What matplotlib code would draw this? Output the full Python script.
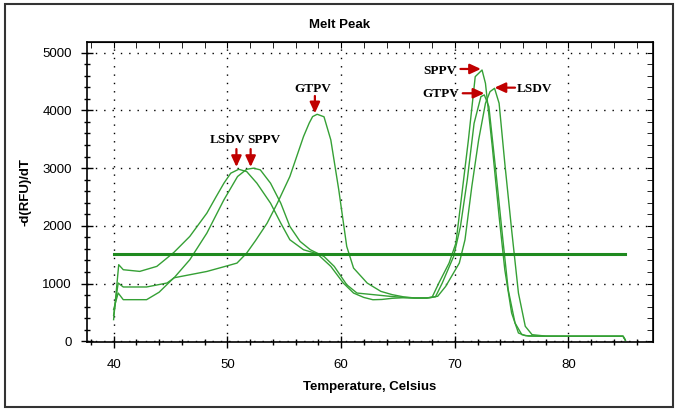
import matplotlib
matplotlib.use("Agg")
import matplotlib.pyplot as plt
from matplotlib.ticker import MultipleLocator
from matplotlib.patches import Rectangle

# curves (temperature, -d(RFU)/dT)
lsdv_t = [40.0, 40.45, 40.85, 42.3, 43.8, 45.3, 46.7, 48.2, 49.0, 49.7, 50.3, 51.0, 51.7,
          52.6, 53.8, 54.7, 55.5, 56.7, 57.9, 59.1, 60.2, 61.1, 62.0, 62.8, 63.6,
          64.5, 65.5, 66.5, 67.5, 68.5, 69.2, 70.4, 70.9, 71.5, 72.1, 72.7, 73.1,
          73.5, 73.9, 74.4, 75.0, 75.6, 76.2, 76.8, 78.0, 80.0, 82.0, 84.0, 84.8, 85.0]
lsdv_v = [375, 1327, 1240, 1211, 1298, 1540, 1817, 2220, 2500, 2739, 2912, 2980, 2941,
          2739, 2393, 2047, 1759, 1586, 1517, 1298, 1009, 836, 760, 720, 725,
          745, 755, 750, 750, 780, 951, 1355, 1759, 2682, 3489, 4123, 4325,
          4383, 4123, 3085, 1932, 836, 260, 115, 90, 88, 88, 88, 88, 20]

sppv_t = [40.0, 40.4, 40.85, 42.9, 44.7, 45.3, 46.7, 48.2, 49.7, 50.9, 51.7, 52.3,
          52.9, 53.8, 54.7, 55.5, 56.4, 57.3, 58.5, 59.4, 60.5, 61.4, 62.9, 64.3,
          65.5, 66.5, 67.5, 68.0, 68.6, 69.5, 70.1, 70.6, 71.2, 71.8, 72.1, 72.4,
          72.7, 73.3, 73.9, 74.4, 75.0, 75.6, 76.2, 78.0, 80.0, 82.0, 84.0, 84.8, 85.0]
sppv_v = [450, 1010, 941, 941, 1010, 1096, 1413, 1874, 2451, 2855, 2980, 2999,
          2970, 2739, 2393, 1990, 1730, 1586, 1470, 1298, 980, 836, 807, 779,
          760, 750, 750, 760, 1009, 1355, 1701, 2509, 3489, 4585, 4642, 4700,
          4469, 3374, 2163, 1240, 490, 144, 98, 88, 88, 88, 88, 88, 20]

gtpv_t = [40.0, 40.4, 40.85, 42.9, 44.0, 45.3, 46.7, 48.2, 49.6, 50.85, 51.7, 52.5,
          53.5, 54.4, 55.5, 56.7, 57.2, 57.5, 57.9, 58.5, 59.1, 59.8, 60.5, 61.1, 62.3,
          63.5, 64.5, 65.5, 66.5, 67.5, 68.3, 68.9, 69.9, 70.5, 71.1, 71.7, 72.3,
          72.6, 73.0, 73.6, 74.2, 74.7, 75.3, 75.9, 76.5, 78.0, 80.0, 82.0, 84.0, 84.8, 85.0]
gtpv_v = [550, 837, 721, 721, 850, 1100, 1153, 1210, 1286, 1355, 1528, 1750,
          2047, 2393, 2855, 3547, 3780, 3893, 3933, 3890, 3489, 2624, 1644, 1269, 1009,
          865, 808, 770, 750, 750, 770, 1009, 1470, 1990, 2797, 3777, 4239,
          4268, 4066, 2970, 1817, 894, 317, 115, 90, 88, 88, 88, 88, 88, 20]

threshold = 1520
threshold_span = [40, 85]

# peak labels: text, label position, arrow tail, arrow head
peak_notes = [
    ("LSDV", (50.0, 3490), (50.8, 3330), (50.8, 3020)),
    ("SPPV", (53.2, 3490), (52.05, 3330), (52.05, 3020)),
    ("GTPV", (57.55, 4370), (57.7, 4250), (57.7, 3950)),
    ("SPPV", (68.7, 4680), (70.5, 4718), (72.3, 4718)),
    ("GTPV", (68.8, 4280), (70.7, 4297), (72.6, 4297)),
    ("LSDV", (77.0, 4370), (75.3, 4394), (73.5, 4394)),
]

green = "#35a035"
sans = ["Liberation Sans", "DejaVu Sans"]

fig = plt.figure(figsize=(6.77, 4.11), dpi=100)
ax = fig.add_axes([0.128, 0.1679, 0.8365, 0.7306])

for t, v in [(lsdv_t, lsdv_v), (sppv_t, sppv_v), (gtpv_t, gtpv_v)]:
    ax.plot(t, v, color=green, lw=1.0)
ax.plot(threshold_span, [threshold, threshold], color="#1f8a1f", lw=2.2)

for txt, pos, tail, head in peak_notes:
    ax.text(pos[0], pos[1], txt, ha="center", va="center", fontsize=9.5,
            fontweight="bold", family=["Liberation Serif", "DejaVu Serif"])
    ax.annotate("", xy=head, xytext=tail,
                arrowprops=dict(arrowstyle="-|>,head_length=0.65,head_width=0.3",
                                color="#c00000", lw=1.6, shrinkA=0, shrinkB=0))

ax.set_xlim(37.63, 87.43)
ax.set_ylim(-12, 5190)
ax.xaxis.set_major_locator(MultipleLocator(10))
ax.xaxis.set_minor_locator(MultipleLocator(2))
ax.yaxis.set_major_locator(MultipleLocator(1000))
ax.yaxis.set_minor_locator(MultipleLocator(200))
ax.tick_params(which="major", direction="inout", length=8, width=1, labelsize=9.5)
ax.tick_params(which="minor", direction="inout", length=5, width=1)
ax.tick_params(axis="x", which="major", pad=8.5)
ax.tick_params(axis="y", which="major", pad=6.5)
for lab in ax.get_xticklabels() + ax.get_yticklabels():
    lab.set_family(sans)

top = ax.secondary_xaxis("top")
top.xaxis.set_major_locator(MultipleLocator(10))
top.xaxis.set_minor_locator(MultipleLocator(2))
top.tick_params(which="both", direction="in", labeltop=False, length=4)
right = ax.secondary_yaxis("right")
right.yaxis.set_major_locator(MultipleLocator(1000))
right.yaxis.set_minor_locator(MultipleLocator(200))
right.tick_params(which="both", direction="in", labelright=False, length=4)

ax.grid(which="major", color="black", linestyle=(0, (1, 5)), linewidth=1)
for s in ax.spines.values():
    s.set_linewidth(1.2)

ax.set_xlabel("Temperature, Celsius", fontsize=9.5, fontweight="bold", family=sans, labelpad=7)
ax.set_ylabel("-d(RFU)/dT", fontsize=9.5, fontweight="bold", family=sans, labelpad=8)
fig.text(0.502, 1 - 25 / 411, "Melt Peak", ha="center", va="center", fontsize=9.5,
         fontweight="bold", family=sans)

fig.patches.append(Rectangle((5 / 677, 4 / 411), 668 / 677, 403 / 411, transform=fig.transFigure,
                             fill=False, edgecolor="#333333", lw=1.5))

fig.savefig("out.png", dpi=100)
